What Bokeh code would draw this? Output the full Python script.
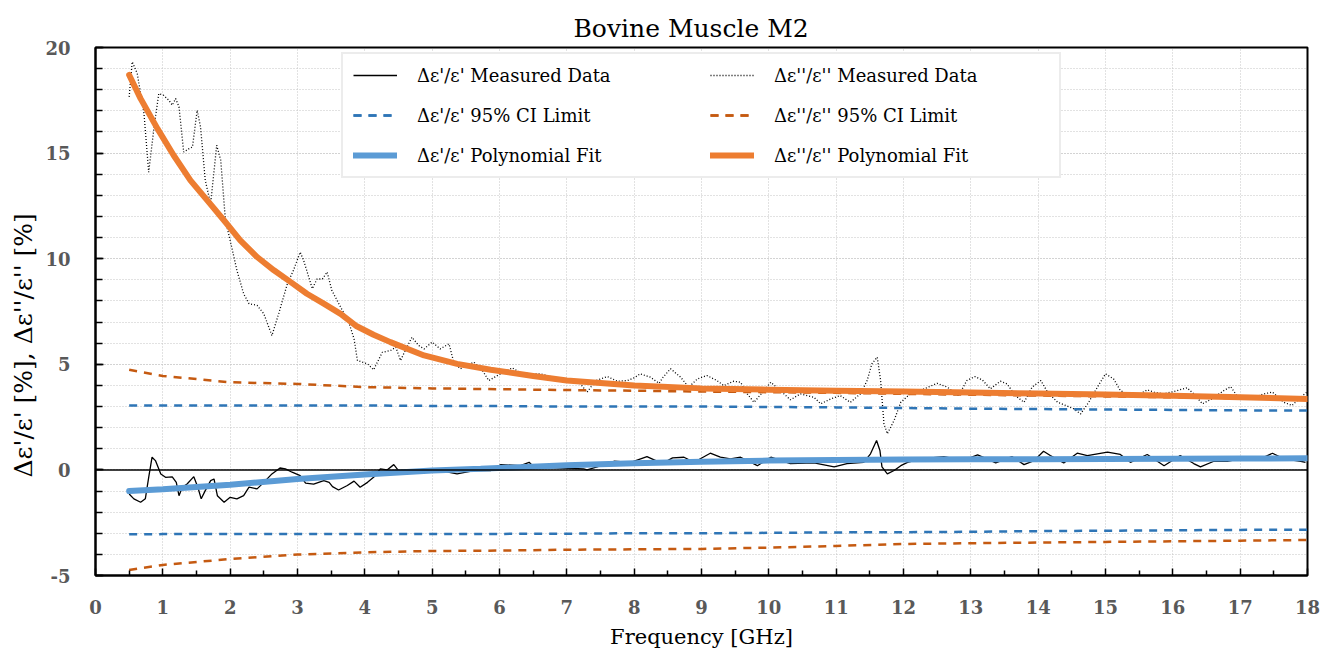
from bokeh.plotting import figure
from bokeh.models import FixedTicker, Span, Legend, LegendItem, Range1d, Title, PrintfTickFormatter
from bokeh.embed import file_html
from bokeh.resources import INLINE

# ---------------- data ----------------
eps1_f = [0.50,0.57,0.67,0.74,0.79,0.84,0.89,0.97,1.04,1.14,
          1.20,1.24,1.29,1.36,1.46,1.52,1.57,1.63,1.71,1.76,
          1.81,1.91,2.00,2.10,2.20,2.28,2.40,2.50,2.62,2.74,
          2.82,2.92,3.04,3.12,3.24,3.39,3.47,3.52,3.61,3.74,
          3.84,3.93,4.04,4.13,4.23,4.33,4.43,4.50,4.68,4.88,
          5.12,5.37,5.62,5.87,6.02,6.31,6.44,6.51,6.91,7.25,
          7.30,7.45,7.70,7.95,8.19,8.42,8.57,8.74,8.89,9.13,
          9.28,9.43,9.58,9.83,10.03,10.32,10.67,10.97,11.16,11.41,
          11.51,11.60,11.65,11.68,11.76,11.86,11.96,12.06,12.25,12.60,
          12.77,12.85,13.10,13.24,13.37,13.61,13.79,13.94,14.08,14.18,
          14.38,14.58,14.73,15.03,15.22,15.37,15.62,15.87,16.11,16.31,
          16.41,16.61,16.81,17.15,17.30,17.48,17.65,17.90,17.97]
eps1_v = [-1.14,-1.37,-1.53,-1.37,-0.35,0.6,0.44,-0.19,-0.35,-0.33,
          -0.59,-1.22,-0.82,-0.67,-0.32,-0.82,-1.37,-0.98,-0.51,-0.43,
          -1.22,-1.53,-1.30,-1.37,-1.22,-0.82,-0.90,-0.59,-0.19,0.09,
          0.05,-0.11,-0.27,-0.63,-0.67,-0.51,-0.59,-0.79,-0.95,-0.74,
          -0.53,-0.82,-0.59,-0.35,0.05,0.0,0.25,-0.03,0.0,-0.11,
          -0.03,-0.19,-0.03,-0.03,0.25,0.2,0.36,0.14,0.09,0.05,
          0.0,0.14,0.41,0.36,0.63,0.3,0.57,0.6,0.36,0.79,
          0.6,0.52,0.6,0.2,0.6,0.3,0.33,0.14,0.3,0.36,
          0.76,1.39,0.92,0.14,-0.19,-0.03,0.2,0.36,0.52,0.63,
          0.52,0.41,0.71,0.52,0.33,0.63,0.25,0.44,0.88,0.68,
          0.33,0.79,0.68,0.84,0.73,0.36,0.73,0.2,0.68,0.3,
          0.14,0.41,0.41,0.63,0.52,0.79,0.52,0.41,0.36]

eps2_f = [0.50,0.545,0.62,0.72,0.79,0.87,0.94,1.01,1.09,1.14,
          1.19,1.24,1.31,1.39,1.44,1.51,1.56,1.63,1.71,1.80,
          1.86,1.93,2.00,2.10,2.20,2.28,2.40,2.50,2.62,2.72,
          2.85,2.94,3.04,3.09,3.22,3.29,3.37,3.44,3.51,3.64,
          3.76,3.84,3.89,4.04,4.13,4.26,4.38,4.46,4.53,4.60,
          4.70,4.80,4.88,5.00,5.12,5.25,5.32,5.42,5.62,5.74,
          5.84,5.97,6.19,6.31,6.46,6.61,6.76,7.00,7.20,7.30,
          7.43,7.60,7.75,7.90,8.00,8.09,8.24,8.37,8.43,8.54,
          8.69,8.81,8.94,9.08,9.23,9.33,9.48,9.58,9.68,9.78,
          9.93,10.03,10.17,10.32,10.47,10.67,10.77,10.92,11.06,11.21,
          11.36,11.46,11.53,11.61,11.66,11.71,11.76,11.86,11.96,12.10,
          12.25,12.50,12.65,12.82,12.94,13.06,13.17,13.29,13.44,13.54,
          13.66,13.79,13.91,14.04,14.14,14.29,14.41,14.53,14.63,14.75,
          14.88,15.00,15.12,15.22,15.42,15.62,15.72,15.87,16.07,16.21,
          16.31,16.44,16.58,16.76,16.86,16.95,17.15,17.35,17.48,17.65,
          17.77,17.90,17.99]
eps2_v = [17.66,19.32,18.77,16.87,14.1,16.24,17.82,17.74,17.5,17.27,
          17.58,17.19,15.05,15.21,15.29,17.03,16.24,13.71,12.6,15.37,
          14.66,11.8,10.87,9.45,8.34,7.87,7.79,7.39,6.36,7.39,
          8.82,9.45,10.31,9.93,8.58,9.04,9.04,9.37,8.5,7.71,
          7.0,6.21,5.18,5.02,4.74,5.57,5.65,5.81,5.18,5.65,
          6.28,5.89,5.73,6.05,5.73,5.97,5.1,4.79,5.1,4.74,
          4.23,4.47,4.83,4.6,4.55,4.55,4.42,4.26,4.08,3.68,
          4.23,4.42,4.2,4.23,4.36,4.55,4.39,4.1,4.39,4.79,
          4.39,3.92,4.31,4.47,4.23,3.99,4.2,4.15,3.6,3.2,
          3.76,4.15,3.76,3.32,3.6,3.44,3.13,3.36,3.52,3.2,
          3.6,4.23,5.02,5.34,4.23,2.18,1.71,2.34,3.2,3.6,
          3.76,4.1,3.92,3.52,4.23,4.42,4.26,3.84,4.2,4.07,
          3.52,3.2,3.92,4.23,3.68,3.2,3.05,2.89,2.65,3.2,
          3.92,4.55,4.31,3.76,3.44,3.79,3.68,3.6,3.76,3.89,
          3.6,3.13,3.36,3.76,3.94,3.52,3.36,3.6,3.68,3.2,
          3.05,3.44,3.68]

ci_f = [0.5, 1, 2, 3, 4, 5, 6, 7, 8, 9, 10, 11, 12, 13, 14, 15, 16, 17, 18]
ci1_upper = [3.05,3.05,3.05,3.05,3.05,3.03,3.02,3.0,3.0,3.0,2.98,2.96,2.93,2.9,2.88,2.86,2.84,2.82,2.81]
ci1_lower = [-3.05,-3.04,-3.03,-3.03,-3.03,-3.03,-3.03,-3.02,-3.0,-3.0,-2.98,-2.96,-2.95,-2.93,-2.9,-2.88,-2.86,-2.84,-2.83]
ci2_upper = [4.74,4.45,4.15,4.07,3.92,3.86,3.82,3.78,3.75,3.71,3.68,3.65,3.6,3.56,3.52,3.48,3.44,3.4,3.36]
ci2_lower = [-4.74,-4.5,-4.22,-4.01,-3.9,-3.84,-3.82,-3.78,-3.76,-3.74,-3.68,-3.6,-3.51,-3.47,-3.44,-3.41,-3.38,-3.35,-3.32]

fit1_f = [0.5, 1, 2, 3, 4, 5, 5.72, 7, 8, 9, 10, 11, 12, 13, 14, 15, 16, 17, 18]
fit1_v = [-1.0, -0.92, -0.7, -0.43, -0.22, -0.03, 0.05, 0.22, 0.32, 0.39, 0.44, 0.47, 0.49, 0.5, 0.51, 0.52, 0.53, 0.54, 0.55]

fit2_f = [0.5, 0.67, 0.92, 1.16, 1.41, 1.66, 1.91, 2.15, 2.4, 2.65, 2.9, 3.14, 3.39, 3.64, 3.88,
          4.13, 4.38, 4.88, 5.37, 5.87, 6.5, 7.0, 8.0, 9.0, 10.0, 11.0, 12.0, 13.0, 14.0, 15.0, 16.0, 17.0, 18.0]
fit2_v = [18.7, 17.58, 16.16, 14.9, 13.71, 12.76, 11.81, 10.87, 10.08, 9.45, 8.89, 8.34, 7.87, 7.39, 6.8,
          6.4, 6.05, 5.42, 5.02, 4.74, 4.45, 4.23, 4.0, 3.86, 3.8, 3.75, 3.71, 3.66, 3.62, 3.57, 3.51, 3.44, 3.36]

x_ticks = list(range(0, 19))
x_minor = [i + 0.5 for i in range(18)]
y_ticks = [-5, 0, 5, 10, 15, 20]
y_minor = list(range(-5, 21))

labels = ["\u0394\u03b5'/\u03b5' Measured Data",
          "\u0394\u03b5'/\u03b5' 95% CI Limit",
          "\u0394\u03b5'/\u03b5' Polynomial Fit",
          "\u0394\u03b5''/\u03b5'' Measured Data",
          "\u0394\u03b5''/\u03b5'' 95% CI Limit",
          "\u0394\u03b5''/\u03b5'' Polynomial Fit"]
y_label = "\u0394\u03b5'/\u03b5' [%],  \u0394\u03b5''/\u03b5'' [%]"
x_label = "Frequency [GHz]"
title_text = "Bovine Muscle M2"

SERIF = "DejaVu Serif"
BLUE_CI = "#2E75B6"
ORANGE_CI = "#C55A11"
BLUE_FIT = "#5B9BD5"
ORANGE_FIT = "#ED7D31"

# ---------------- figure ----------------
p = figure(width=1328, height=652, output_backend="svg", toolbar_location=None,
           x_range=Range1d(0, 18), y_range=Range1d(-5, 20),
           min_border_left=95, min_border_right=21, min_border_top=47, min_border_bottom=77)

p.title.text = title_text
p.title.align = "left"
p.title.offset = 478
p.title.text_font = SERIF
p.title.text_font_size = "25px"
p.title.text_font_style = "normal"
p.title.text_color = "black"
p.title.standoff = 10

p.outline_line_color = "black"
p.outline_line_width = 2
p.background_fill_color = "white"
p.border_fill_color = "white"

xa = p.xaxis[0]
xa.ticker = FixedTicker(ticks=x_ticks, minor_ticks=x_minor)
xa.axis_label = x_label
ya = p.yaxis[0]
ya.ticker = FixedTicker(ticks=y_ticks, minor_ticks=y_minor)
ya.formatter = PrintfTickFormatter(format="%d")

for ax in (xa, ya):
    ax.axis_line_color = "black"
    ax.axis_line_width = 2
    ax.major_tick_line_color = "black"
    ax.minor_tick_line_color = "black"
    ax.major_tick_line_width = 1.5
    ax.minor_tick_line_width = 1.5
    ax.major_tick_out = 0
    ax.minor_tick_out = 0
    ax.major_label_text_font = SERIF
    ax.major_label_text_font_size = "18px"
    ax.major_label_text_font_style = "bold"
    ax.major_label_text_color = "#595959"
    ax.axis_label_text_font = SERIF
    ax.axis_label_text_font_style = "normal"
    ax.axis_label_text_color = "black"

xa.major_tick_in = 7
xa.minor_tick_in = 5
xa.major_label_standoff = 24
xa.axis_label_text_font_size = "21px"
xa.axis_label_standoff = 8
ya.major_tick_in = 8
ya.minor_tick_in = 7
ya.major_label_standoff = 25

ytitle = Title(text=y_label, align="left", offset=98, standoff=10,
               text_font=SERIF, text_font_size="25px", text_font_style="normal",
               text_color="black")
p.add_layout(ytitle, "left")

p.xgrid.grid_line_color = "#c4c4c4"
p.xgrid.grid_line_dash = "1 2"
p.xgrid.grid_line_width = 1
p.ygrid.grid_line_color = "#c4c4c4"
p.ygrid.grid_line_dash = "1 2"
p.ygrid.grid_line_width = 1
p.ygrid.minor_grid_line_color = "#c4c4c4"
p.ygrid.minor_grid_line_dash = "1 2"
p.ygrid.minor_grid_line_width = 1

p.add_layout(Span(location=0, dimension="width", line_color="black", line_width=1.5))

# measured data
r_m1 = p.line(eps1_f, eps1_v, line_color="black", line_width=1.3)
r_m2 = p.line(eps2_f, eps2_v, line_color="black", line_width=1.3, line_dash="1 2")
# CI limits
r_c1u = p.line(ci_f, ci1_upper, line_color=BLUE_CI, line_width=2.5, line_dash="8 7")
r_c1l = p.line(ci_f, ci1_lower, line_color=BLUE_CI, line_width=2.5, line_dash="8 7")
r_c2u = p.line(ci_f, ci2_upper, line_color=ORANGE_CI, line_width=2.5, line_dash="8 7")
r_c2l = p.line(ci_f, ci2_lower, line_color=ORANGE_CI, line_width=2.5, line_dash="8 7")
# fits
r_f1 = p.line(fit1_f, fit1_v, line_color=BLUE_FIT, line_width=6, line_cap="round")
r_f2 = p.line(fit2_f, fit2_v, line_color=ORANGE_FIT, line_width=6, line_cap="round", line_join="round")

items = [LegendItem(label=labels[0], renderers=[r_m1]),
         LegendItem(label=labels[1], renderers=[r_c1u, r_c1l]),
         LegendItem(label=labels[2], renderers=[r_f1]),
         LegendItem(label=labels[3], renderers=[r_m2]),
         LegendItem(label=labels[4], renderers=[r_c2u, r_c2l]),
         LegendItem(label=labels[5], renderers=[r_f2])]

legend = Legend(items=items, location="top_center", ncols=2,
                padding=10, spacing=18, margin=5,
                label_standoff=20, glyph_width=44, glyph_height=22,
                label_height=22, label_width=275,
                label_text_font=SERIF, label_text_font_size="18px",
                label_text_color="black",
                border_line_color="#d9d9d9", border_line_width=2,
                background_fill_color="white", background_fill_alpha=1.0)
p.add_layout(legend)

open("out.html", "w").write(file_html(p, INLINE))
